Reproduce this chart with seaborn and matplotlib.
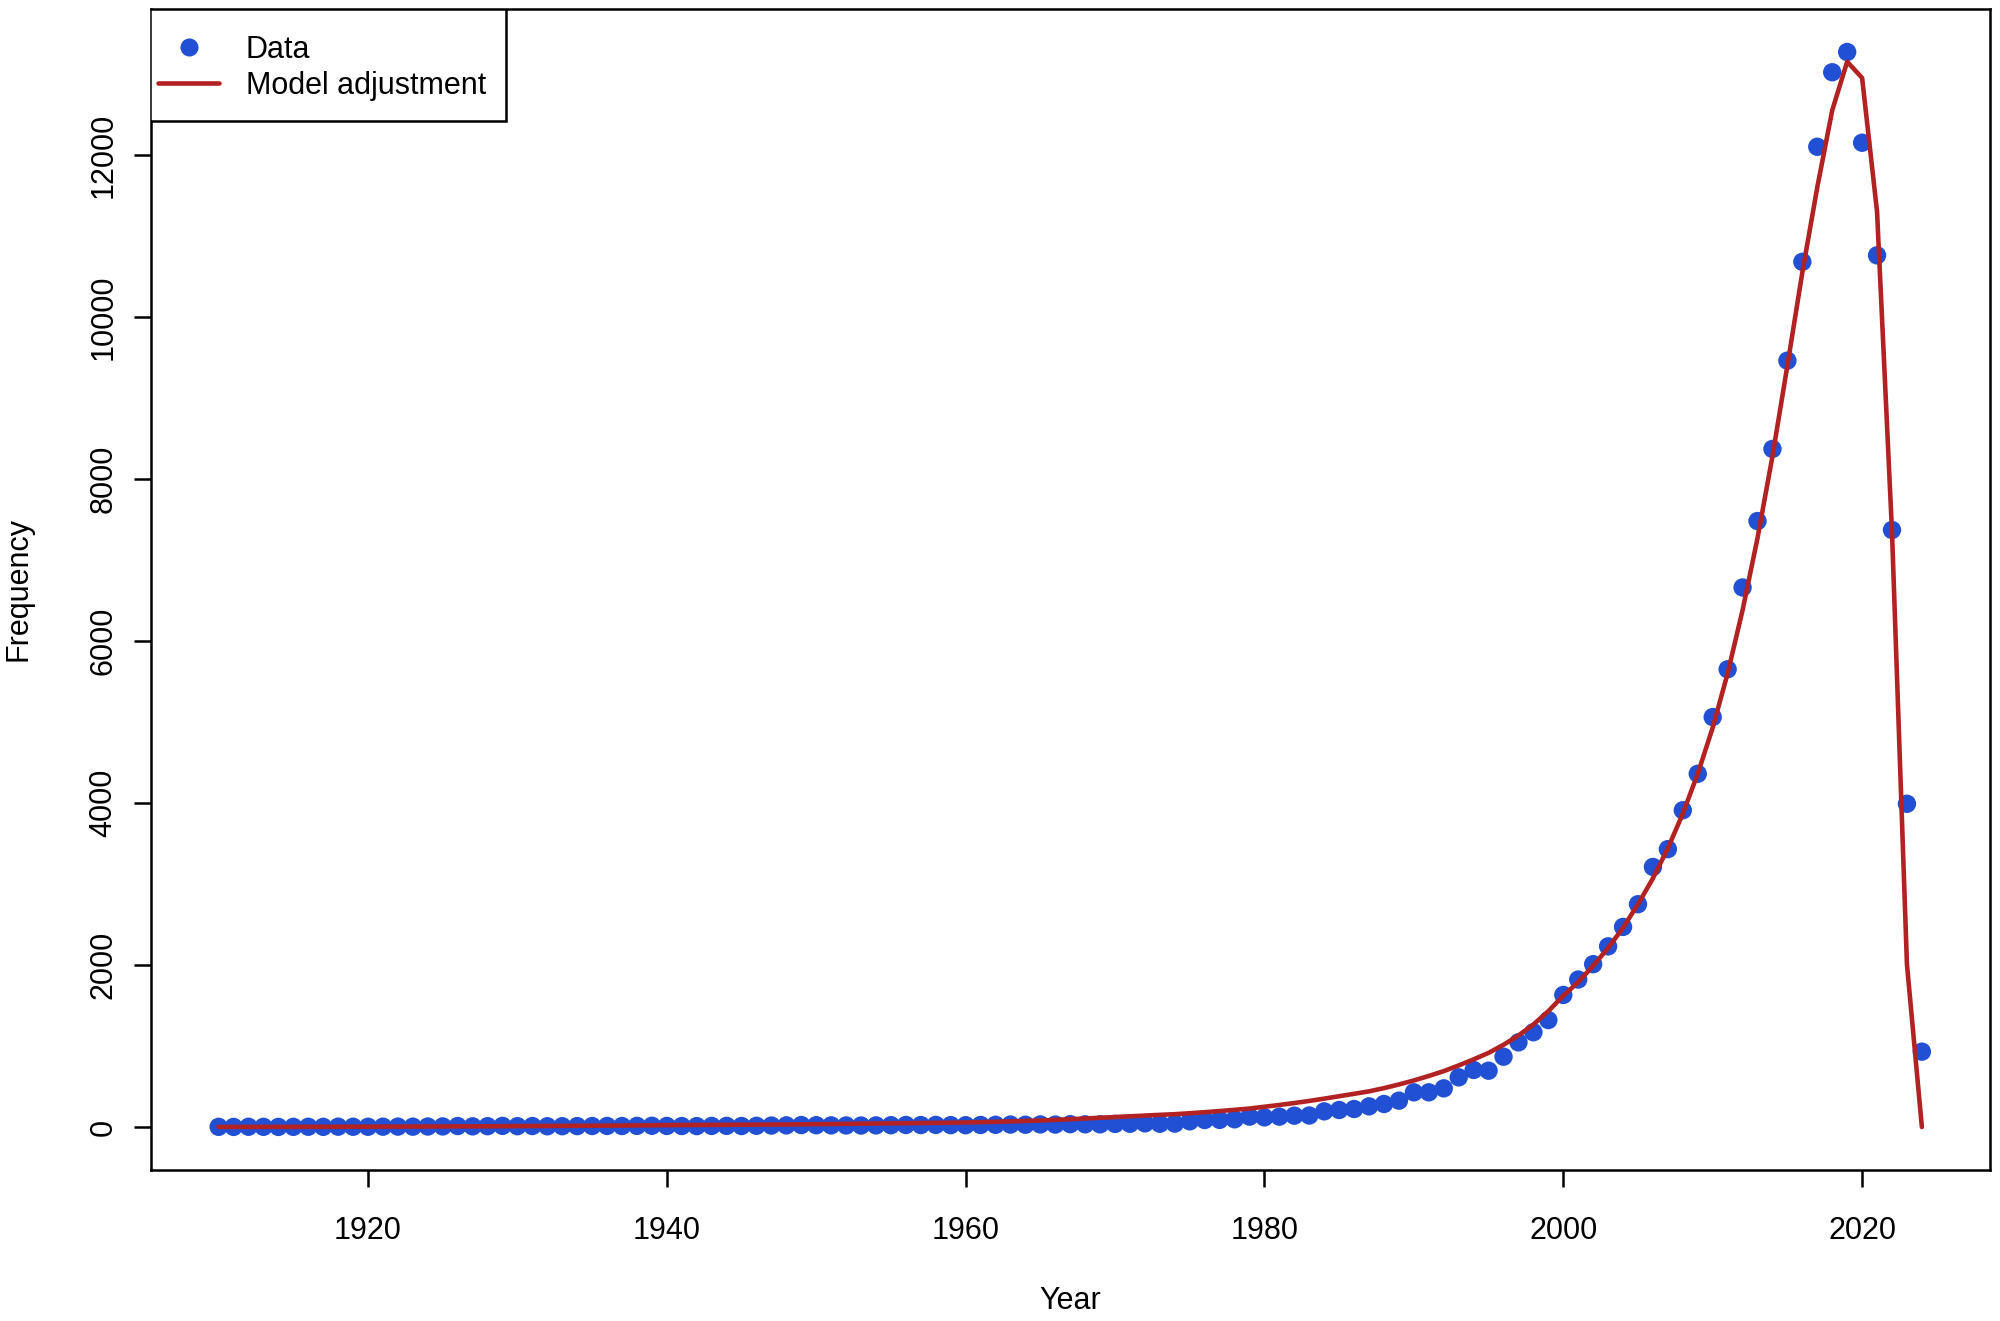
import matplotlib
matplotlib.use("Agg")
import matplotlib.pyplot as plt
from matplotlib.lines import Line2D
from matplotlib.patches import Rectangle
import seaborn as sns
import numpy as np
import pandas as pd

# ---------------- data ----------------
years = list(range(1910, 2025))

data_values = [
    2, 1, 3, 2, 1, 2, 3, 2, 4, 3,            # 1910-1919
    3, 4, 5, 4, 6, 7, 12, 8, 10, 14,          # 1920-1929
    10, 12, 9, 10, 11, 12, 13, 12, 14, 15,    # 1930-1939
    13, 12, 11, 13, 14, 12, 15, 18, 20, 24,   # 1940-1949
    22, 20, 19, 18, 20, 22, 25, 24, 26, 23,   # 1950-1959
    22, 25, 27, 30, 28, 32, 30, 35, 33, 33,   # 1960-1969
    38, 40, 45, 40, 42, 70, 86, 88, 95, 128,  # 1970-1979
    119, 128, 140, 142, 193, 210, 222, 255, 284, 325,   # 1980-1989
    428, 428, 477, 613, 704, 695, 868, 1045, 1170, 1320,  # 1990-1999
    1630, 1820, 2010, 2230, 2470, 2750, 3210, 3430, 3910, 4360,  # 2000-2009
    5060, 5650, 6660, 7480, 8370, 9460, 10680, 12100, 13020, 13270,  # 2010-2019
    12150, 10760, 7370, 3990, 930,            # 2020-2024
]

model_values = [
    1, 1, 1, 2, 2, 2, 3, 3, 3, 4,             # 1910-1919
    4, 5, 5, 6, 6, 7, 8, 8, 9, 10,            # 1920-1929
    11, 12, 13, 14, 15, 16, 17, 18, 20, 21,   # 1930-1939
    23, 24, 25, 26, 27, 28, 29, 30, 31, 33,   # 1940-1949
    35, 37, 39, 41, 43, 45, 47, 49, 51, 53,   # 1950-1959
    56, 60, 64, 69, 74, 80, 88, 96, 105, 114,  # 1960-1969
    123, 132, 141, 150, 158, 170, 183, 197, 212, 228,   # 1970-1979
    250, 272, 296, 322, 350, 380, 410, 440, 480, 525,   # 1980-1989
    575, 630, 690, 760, 835, 915, 1015, 1130, 1265, 1430,  # 1990-1999
    1620, 1790, 1990, 2210, 2460, 2750, 3070, 3440, 3870, 4360,  # 2000-2009
    4930, 5600, 6380, 7270, 8280, 9400, 10550, 11600, 12550, 13150,  # 2010-2019
    12950, 11300, 7350, 2010, 0,              # 2020-2024
]

x_ticks = [1920, 1940, 1960, 1980, 2000, 2020]
y_ticks = [0, 2000, 4000, 6000, 8000, 10000, 12000]
legend_labels = ["Data", "Model adjustment"]
x_label = "Year"
y_label = "Frequency"

# ---------------- style ----------------
sns.set_theme(style="white")
plt.rcParams["font.family"] = ["Liberation Sans", "Arial", "DejaVu Sans"]

BLUE = "#2150D4"
RED = "#B22222"
FS = 22

W, H = 2000, 1321
fig = plt.figure(figsize=(W / 100, H / 100), dpi=100)
fig.patch.set_facecolor("white")

L, R, T, B = 150.5, 1990, 9, 1170
ax = fig.add_axes([L / W, 1 - B / H, (R - L) / W, (B - T) / H])
ax.set_facecolor("white")

df = pd.DataFrame({"Year": years, "Data": data_values, "Model": model_values})

sns.scatterplot(data=df, x="Year", y="Data", color=BLUE, s=175,
                edgecolor="none", linewidth=0, ax=ax, zorder=2, legend=False)
sns.lineplot(data=df, x="Year", y="Model", color=RED, linewidth=3.3,
             ax=ax, zorder=3, legend=False, estimator=None)

# R-like 4% axis extension
xmin, xmax = min(years), max(years)
xr = xmax - xmin
ymax = max(max(data_values), max(model_values))
ymin = 0
yr = ymax - ymin
ax.set_xlim(xmin - 0.04 * xr, xmax + 0.04 * xr)
ax.set_ylim(ymin - 0.04 * yr, ymax + 0.04 * yr)

ax.set_xticks(x_ticks)
ax.set_yticks(y_ticks)
ax.set_xticklabels([str(v) for v in x_ticks])
ax.set_yticklabels([str(v) for v in y_ticks], rotation=90, va="center")

for s in ax.spines.values():
    s.set_visible(True)
    s.set_color("black")
    s.set_linewidth(1.8)

ax.tick_params(axis="both", which="major", direction="out", length=12,
               width=1.8, color="black", labelsize=FS, labelcolor="black",
               bottom=True, left=True, top=False, right=False)
ax.tick_params(axis="x", pad=21)
ax.tick_params(axis="y", pad=11)
ax.grid(False)

ax.set_xlabel(x_label, fontsize=FS, color="black")
ax.set_ylabel(y_label, fontsize=FS, color="black")
ax.xaxis.set_label_coords(0.5, (B - 1301) / (B - T))
ax.xaxis.label.set_va("center")
ax.yaxis.set_label_coords((19 - L) / (R - L), 0.5)
ax.yaxis.label.set_va("center")
ax.yaxis.label.set_ha("center")

# legend box (R style) and entries
box = Rectangle((150 / W, 1 - 121 / H), (506 - 150) / W, (121 - 9) / H,
                transform=fig.transFigure, facecolor="white",
                edgecolor="black", linewidth=1.8, zorder=4)
ax.add_patch(box)

handles = [
    Line2D([], [], marker="o", linestyle="none", color=BLUE,
           markersize=13, markeredgewidth=0),
    Line2D([], [], color=RED, linewidth=3.3),
]
leg = ax.legend(handles, legend_labels, loc="upper left", fontsize=FS,
                frameon=False, borderaxespad=0, borderpad=0,
                bbox_to_anchor=(158 / W, 1 - 35 / H),
                bbox_transform=fig.transFigure,
                labelspacing=0.2, handlelength=2.0, handletextpad=0.87)
leg.set_zorder(5)
for t in leg.get_texts():
    t.set_color("black")

fig.savefig("out.png", dpi=100, facecolor="white")
